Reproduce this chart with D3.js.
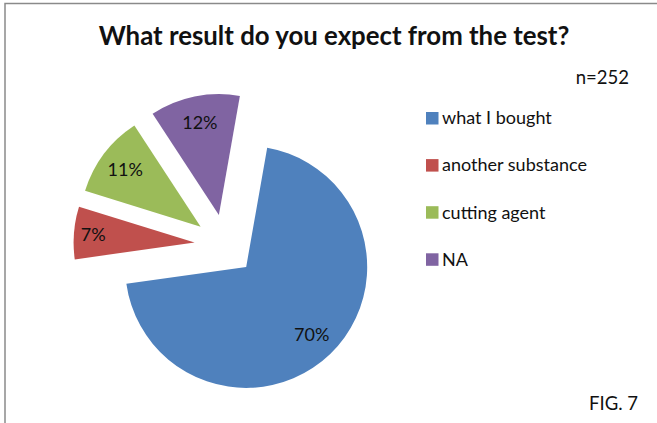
<!DOCTYPE html>
<html>
<head>
<meta charset="utf-8">
<script src="https://cdn.jsdelivr.net/npm/d3@7"></script>
<style>
  html, body { margin: 0; padding: 0; background: #fff; }
  svg { display: block; }
  text { font-family: Lato, "Open Sans", sans-serif; fill: #111; }
</style>
</head>
<body>
<svg id="chart" width="657" height="423"></svg>
<script>
// Survey answers (n=252), shares in percent
const categories = ["what I bought", "another substance", "cutting agent", "NA"];
const shares = [70, 7, 11, 12];
const colors = ["#4F81BD", "#C0504D", "#9BBB59", "#8064A2"];
const titleText = "What result do you expect from the test?";
const sampleNote = "n=252";
const figNote = "FIG. 7";

const svg = d3.select("#chart");

// Chart frame (right and bottom edges run past the viewport)
svg.append("rect")
  .attr("x", 5).attr("y", 3.5)
  .attr("width", 700).attr("height", 500)
  .attr("fill", "none")
  .attr("stroke", "#8a8a8a")
  .attr("stroke-width", 1.5);

// Title
svg.append("text")
  .attr("x", 334).attr("y", 45)
  .attr("text-anchor", "middle")
  .attr("font-size", 25.8)
  .attr("font-weight", "bold")
  .text(titleText);

// Exploded pie
const cx = 225, cy = 245;
const radius = 121;
const explode = 30.5;
const deg = Math.PI / 180;

const pie = d3.pie()
  .sort(null)
  .startAngle(10 * deg)
  .endAngle(370 * deg)
  .value(d => d);

const arc = d3.arc().innerRadius(0).outerRadius(radius);
const arcs = pie(shares);

const g = svg.append("g").attr("transform", `translate(${cx},${cy})`);

const slice = g.selectAll("g.slice")
  .data(arcs)
  .join("g")
  .attr("class", "slice")
  .attr("transform", d => {
    const a = (d.startAngle + d.endAngle) / 2;
    return `translate(${explode * Math.sin(a)},${-explode * Math.cos(a)})`;
  });

slice.append("path")
  .attr("d", arc)
  .attr("fill", (d, i) => colors[i]);

// Percentage labels inside each slice; narrow slices push the label outward
slice.append("text")
  .attr("transform", d => {
    const a = (d.startAngle + d.endAngle) / 2;
    const span = d.endAngle - d.startAngle;
    const lr = radius * (span < 0.5 ? 0.84 : 0.78);
    return `translate(${lr * Math.sin(a)},${-lr * Math.cos(a)})`;
  })
  .attr("text-anchor", "middle")
  .attr("dy", "0.36em")
  .attr("font-size", 18)
  .text(d => d.data + "%");

// Sample size note
svg.append("text")
  .attr("x", 629).attr("y", 84)
  .attr("text-anchor", "end")
  .attr("font-size", 18.5)
  .text(sampleNote);

// Legend
const legend = svg.append("g").attr("transform", "translate(426,112)");
const row = legend.selectAll("g")
  .data(categories)
  .join("g")
  .attr("transform", (d, i) => `translate(0,${i * 47.1})`);

row.append("rect")
  .attr("width", 12.5).attr("height", 12.5)
  .attr("fill", (d, i) => colors[i]);

row.append("text")
  .attr("x", 16).attr("y", 12.3)
  .attr("font-size", 18)
  .text(d => d);

// Figure number
svg.append("text")
  .attr("x", 638).attr("y", 410)
  .attr("text-anchor", "end")
  .attr("font-size", 18.5)
  .text(figNote);
</script>
</body>
</html>
